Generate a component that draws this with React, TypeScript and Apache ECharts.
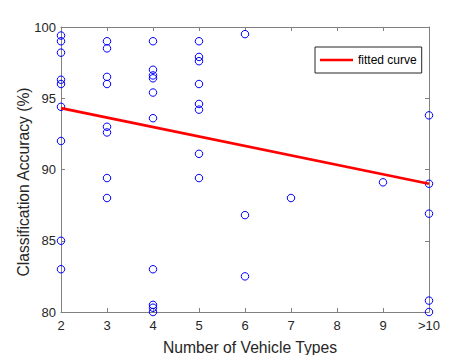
import React, { useEffect, useRef } from "react";
import * as echarts from "echarts";

// Classification accuracy (%) by number of vehicle types
const acc2 = [99.4, 99.0, 98.2, 96.3, 96.0, 94.4, 92.0, 85.0, 83.0];
const acc3 = [99.0, 98.5, 96.5, 96.0, 93.0, 92.6, 89.4, 88.0];
const acc4 = [99.0, 97.0, 96.6, 96.4, 95.4, 93.6, 83.0, 80.5, 80.3, 80.0];
const acc5 = [99.0, 97.9, 97.6, 96.0, 94.6, 94.2, 91.1, 89.4];
const acc6 = [99.5, 86.8, 82.5];
const acc7 = [88.0];
const acc9 = [89.1];
const acc10 = [93.8, 89.0, 86.9, 80.8, 80.0];

const groups: [number, number[]][] = [
  [2, acc2], [3, acc3], [4, acc4], [5, acc5], [6, acc6], [7, acc7], [9, acc9], [10, acc10],
];

const fitX = [2, 10];
const fitY = [94.3, 89.0];

const xTickLabels: Record<number, string> = { 2: "2", 3: "3", 4: "4", 5: "5", 6: "6", 7: "7", 8: "8", 9: "9", 10: ">10" };

const FONT = "'Liberation Sans', Arial, Helvetica, sans-serif";
const TXT = "#262626";
const AX = "#808080";

export default function App() {
  const ref = useRef<HTMLDivElement>(null);
  useEffect(() => {
    if (!ref.current) return;
    const chart = echarts.init(ref.current, null, { renderer: "svg" });
    const points: number[][] = [];
    groups.forEach(([x, ys]) => ys.forEach((y) => points.push([x, y])));
    const baseAxis = {
      axisLine: { show: true, lineStyle: { color: AX, width: 1 } },
      axisTick: { show: true, inside: true, length: 4, lineStyle: { color: AX } },
      splitLine: { show: false },
    };
    chart.setOption({
      animation: false,
      grid: { left: 61, right: 45, top: 27, bottom: 43 },
      xAxis: [
        {
          ...baseAxis,
          type: "value", min: 2, max: 10, interval: 1, position: "bottom",
          axisLabel: { color: TXT, fontSize: 13, fontFamily: FONT, margin: 7, formatter: (v: number) => xTickLabels[v] ?? String(v) },
        },
        {
          ...baseAxis,
          type: "value", min: 2, max: 10, interval: 1, position: "top",
          axisLabel: { show: false },
        },
      ],
      yAxis: [
        {
          ...baseAxis,
          type: "value", min: 80, max: 100, interval: 5, position: "left",
          axisLabel: { color: TXT, fontSize: 13, fontFamily: FONT, margin: 5 },
        },
        {
          ...baseAxis,
          type: "value", min: 80, max: 100, interval: 5, position: "right",
          axisLabel: { show: false },
        },
      ],
      legend: {
        data: [{ name: "fitted curve", icon: "rect" }],
        left: 315, top: 47,
        padding: [7, 5, 7, 5],
        itemWidth: 33, itemHeight: 2.5,
        itemGap: 5,
        borderColor: "#262626", borderWidth: 1, borderRadius: 0,
        backgroundColor: "#ffffff",
        textStyle: { color: "#000", fontSize: 12, fontFamily: FONT },
      },
      graphic: [
        {
          type: "text",
          x: 250, y: 347,
          style: { text: "Number of Vehicle Types", fontSize: 15.7, fontFamily: FONT, fill: TXT, align: "center", verticalAlign: "middle" },
        },
        {
          type: "text",
          x: 23, y: 182, rotation: Math.PI / 2,
          style: { text: "Classification Accuracy (%)", fontSize: 15.7, fontFamily: FONT, fill: TXT, align: "center", verticalAlign: "middle" },
        },
      ],
      series: [
        {
          type: "scatter",
          name: "data",
          data: points,
          symbol: "circle",
          symbolSize: 7.5,
          clip: false,
          itemStyle: { color: "rgba(0,0,0,0)", borderColor: "#0000ff", borderWidth: 1, opacity: 1 },
          emphasis: { disabled: true },
          z: 3,
        },
        {
          type: "line",
          name: "fitted curve",
          data: fitX.map((x, i) => [x, fitY[i]]),
          showSymbol: false,
          symbol: "none",
          color: "#ff0000",
          lineStyle: { color: "#ff0000", width: 2.8 },
          itemStyle: { color: "#ff0000" },
          z: 4,
        },
      ],
    });
    return () => chart.dispose();
  }, []);
  return <div ref={ref} style={{ position: "fixed", left: 0, top: 0, width: 474, height: 355, background: "#fff" }} />;
}
